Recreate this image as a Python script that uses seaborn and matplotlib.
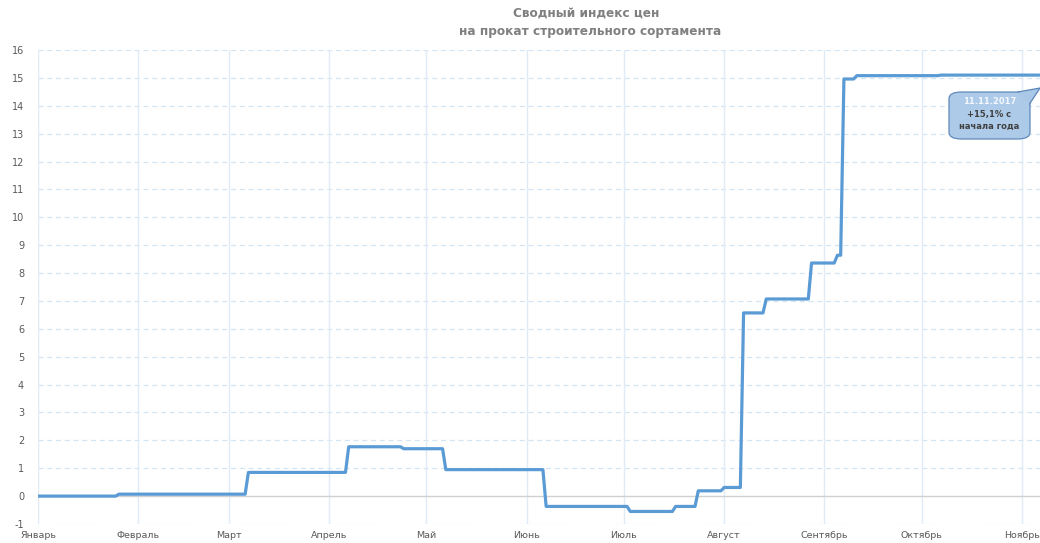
import matplotlib
matplotlib.use("Agg")
import matplotlib.pyplot as plt
from matplotlib.patches import FancyBboxPatch, Polygon
import pandas as pd
import seaborn as sns

# ---- data ----
dates = ["2017-01-01", "2017-01-25", "2017-01-26", "2017-03-06", "2017-03-07",
         "2017-04-06", "2017-04-07", "2017-04-23", "2017-04-24", "2017-05-06",
         "2017-05-07", "2017-06-06", "2017-06-07", "2017-07-02", "2017-07-03",
         "2017-07-16", "2017-07-17", "2017-07-23", "2017-07-24", "2017-07-31",
         "2017-08-01", "2017-08-06", "2017-08-07", "2017-08-13", "2017-08-14",
         "2017-08-27", "2017-08-28", "2017-09-04", "2017-09-05", "2017-09-06",
         "2017-09-07", "2017-09-10", "2017-09-11", "2017-10-06", "2017-10-07",
         "2017-11-11"]
values = [0.0, 0.0, 0.07, 0.07, 0.85,
          0.85, 1.77, 1.77, 1.70, 1.70,
          0.95, 0.95, -0.37, -0.37, -0.55,
          -0.55, -0.37, -0.37, 0.19, 0.19,
          0.31, 0.31, 6.57, 6.57, 7.07,
          7.07, 8.36, 8.36, 8.64, 8.64,
          14.96, 14.96, 15.08, 15.08, 15.10,
          15.10]
month_starts = ["2017-01-01", "2017-02-01", "2017-03-01", "2017-04-01", "2017-05-01",
                "2017-06-01", "2017-07-01", "2017-08-01", "2017-09-01", "2017-10-01",
                "2017-11-01"]
month_labels = ["Январь", "Февраль", "Март", "Апрель", "Май", "Июнь", "Июль",
                "Август", "Сентябрь", "Октябрь", "Ноябрь"]
y_ticks = list(range(-1, 17))
title_lines = ["Сводный индекс цен", "на прокат строительного сортамента"]
callout_lines = ["11.11.2017", "+15,1% с", "начала года"]

df = pd.DataFrame({"date": pd.to_datetime(dates), "value": values})

sns.set_theme(style="white")
plt.rcParams["font.family"] = ["DejaVu Sans"]

W, H = 1040, 543
fig = plt.figure(figsize=(W / 100, H / 100), dpi=100)
ax = fig.add_axes([38 / W, 1 - 524 / H, 1 - 38 / W, (524 - 50) / H])

sns.lineplot(data=df, x="date", y="value", ax=ax, color="#5b9bd5",
             linewidth=2.3, zorder=5)

ax.set_ylim(-1, 16)
ax.set_xlim(pd.Timestamp("2017-01-01"), pd.Timestamp("2017-11-06 14:00"))
ax.set_yticks(y_ticks)
ax.set_yticklabels([str(v) for v in y_ticks])
ms = pd.to_datetime(month_starts)
ax.set_xticks(ms)
ax.set_xticklabels(month_labels)

for s in ax.spines.values():
    s.set_visible(False)

for v in y_ticks:
    if v == 0:
        ax.axhline(v, color="#d0d0d0", linewidth=1.0, zorder=2)
    else:
        ax.axhline(v, color="#d2e5f4", linewidth=0.9, linestyle=(0, (4, 3)), zorder=1)
for m in ms:
    ax.axvline(m, color="#e0ebf6", linewidth=1.0, zorder=1)

ax.tick_params(axis="y", length=0, pad=10, labelsize=7, labelcolor="#595959")
ax.tick_params(axis="x", length=0, pad=5, labelsize=6.8, labelcolor="#595959")
ax.set_xlabel("")
ax.set_ylabel("")

# title
fig.text(586 / W, 1 - 13 / H, title_lines[0], ha="center", va="center",
         fontsize=8.7, fontweight="bold", color="#808080")
fig.text(590 / W, 1 - 31 / H, title_lines[1], ha="center", va="center",
         fontsize=8.7, fontweight="bold", color="#808080")

# callout
x0, y0, x1, y1 = 949, 92, 1030, 139
box = FancyBboxPatch((x0 / W, 1 - y1 / H), (x1 - x0) / W, (y1 - y0) / H,
                     boxstyle="round,pad=0,rounding_size=0.012",
                     transform=fig.transFigure, facecolor="#a9c8e8",
                     edgecolor="#5a86b8", linewidth=0.9, alpha=0.95, zorder=10)
fig.add_artist(box)
tail = Polygon([(1018 / W, 1 - 92.5 / H), (1040 / W, 1 - 88 / H), (1029.5 / W, 1 - 104 / H)],
               closed=True, transform=fig.transFigure, facecolor="#a9c8e8",
               edgecolor="none", zorder=11)
fig.add_artist(tail)
fig.add_artist(plt.Line2D([1018 / W, 1040 / W, 1029.5 / W],
                          [1 - 92 / H, 1 - 88 / H, 1 - 104 / H],
                          transform=fig.transFigure, color="#5a86b8",
                          linewidth=0.9, zorder=12))
cx = (x0 + x1) / 2
fig.text(cx / W, 1 - 102 / H, callout_lines[0], ha="center", va="center",
         fontsize=6.0, fontweight="bold", color="#f4f8fc", zorder=13)
fig.text(cx / W, 1 - 114 / H, callout_lines[1], ha="center", va="center",
         fontsize=6.0, fontweight="bold", color="#404040", zorder=13)
fig.text(cx / W, 1 - 126 / H, callout_lines[2], ha="center", va="center",
         fontsize=6.0, fontweight="bold", color="#404040", zorder=13)

fig.savefig("out.png", dpi=100)
